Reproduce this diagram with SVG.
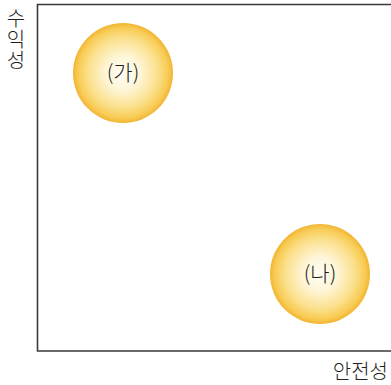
<svg xmlns="http://www.w3.org/2000/svg" width="391" height="385" viewBox="0 0 391 385">
<style>
.lbl{font-family:"Noto Sans CJK KR","Noto Sans",sans-serif;font-size:20px;fill:#231f20;font-weight:300}
.nl{font-family:"Noto Sans CJK KR","Noto Sans",sans-serif;font-size:21px;fill:#231f20;text-anchor:middle;font-weight:300}
.ax{stroke:#3a3a3a;stroke-width:1.6;fill:none}
</style>
<defs>
<radialGradient id="g" cx="0.5" cy="0.5" r="0.5">
<stop offset="0" stop-color="#fffef8"/>
<stop offset="0.35" stop-color="#fef5d6"/>
<stop offset="0.7" stop-color="#fbe08c"/>
<stop offset="0.9" stop-color="#f8cc55"/>
<stop offset="1" stop-color="#f2b533"/>
</radialGradient>
</defs>
<g id="axes">
<polyline class="ax" points="391,4.5 37.5,4.5 37.5,351 391,351"/>
</g>
<g id="ylabel">
<text class="lbl" x="16" y="8" writing-mode="vertical-rl" letter-spacing="1">수익성</text>
</g>
<g id="xlabel">
<text class="lbl" x="388" y="379" text-anchor="end">안전성</text>
</g>
<g id="ga">
<circle cx="123" cy="73" r="50" fill="url(#g)"/>
<text class="nl" x="123" y="80">(가)</text>
</g>
<g id="na">
<circle cx="320" cy="274" r="50" fill="url(#g)"/>
<text class="nl" x="320" y="281">(나)</text>
</g>
</svg>
